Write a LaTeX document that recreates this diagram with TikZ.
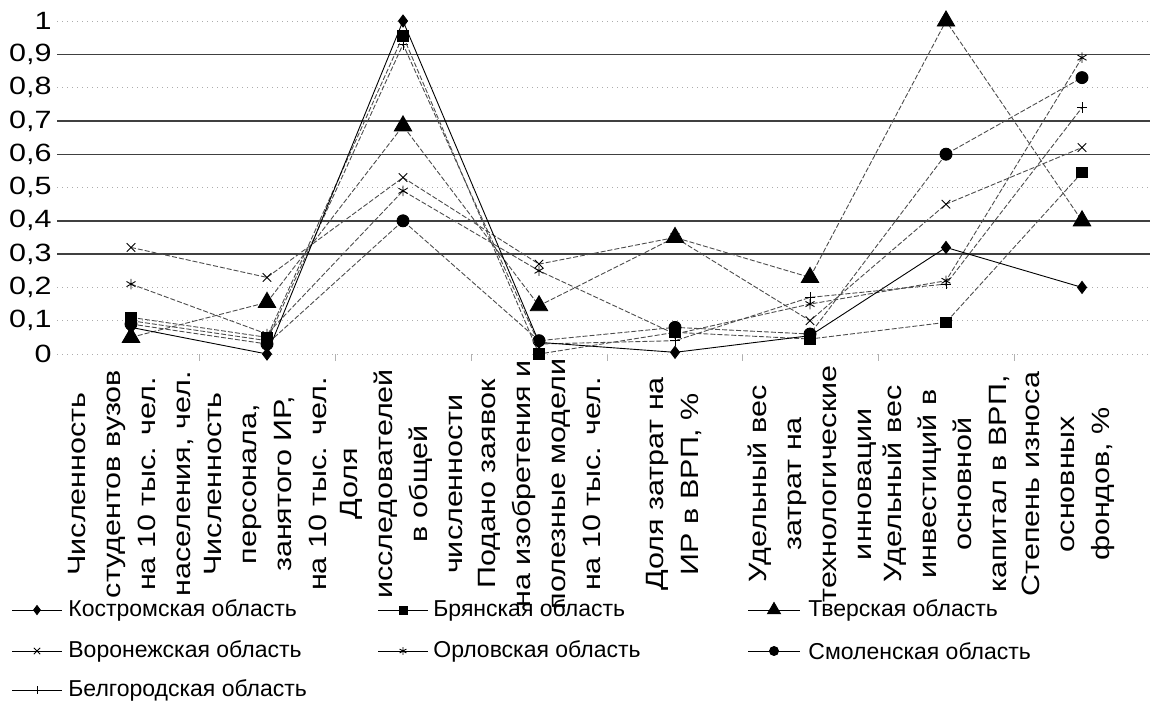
\documentclass[tikz,border=0pt]{standalone}
\usepackage{fontspec}
\setmainfont{Liberation Sans}
\newfontfamily\widefont[FakeStretch=1.22]{Liberation Sans}
\usetikzlibrary{plotmarks}

\begin{document}
\begin{tikzpicture}[x=0.5pt,y=-0.5pt,
    gridsolid/.style={black!75,line width=0.7pt},
    griddot/.style={gray!65,dotted,line width=0.5pt},
    ticklab/.style={anchor=east,inner sep=0pt,font=\widefont\fontsize{12.5}{15}\selectfont},
    catlab/.style={rotate=90,align=center,inner sep=0pt,font=\widefont\fontsize{12.5}{17.5}\selectfont},
    leglab/.style={anchor=west,inner sep=0pt,font=\fontsize{11.5}{14}\selectfont},
    series/.style={line width=0.45pt,black!70,dash pattern=on 2.5pt off 1pt,
      mark options={solid,fill=black,draw=black}},
    kostroma/.style={series,black,solid,mark=diamond*,mark size=3pt},
    bryansk/.style={series,mark=square*,mark size=2.7pt},
    tver/.style={series,mark=triangle*,mark size=5pt},
    voronezh/.style={series,mark=x,mark size=3pt},
    orel/.style={series,mark=asterisk,mark size=2.6pt},
    smolensk/.style={series,mark=*,mark size=3pt},
    belgorod/.style={series,mark=+,mark size=2.6pt},
    legline/.style={solid,black,mark indices={2},mark options={solid,fill=black,draw=black,scale=0.75}}]
  \useasboundingbox (0,0) rectangle (1150,707);
  \begin{scope}[shift={(0,354)},y=166.5pt]
    % grid
    \draw[griddot] (57,1.0) -- (1150,1.0);
    \draw[gridsolid] (57,0.9) -- (1150,0.9);
    \draw[griddot] (57,0.8) -- (1150,0.8);
    \draw[gridsolid] (57,0.7) -- (1150,0.7);
    \draw[gridsolid] (57,0.6) -- (1150,0.6);
    \draw[griddot] (57,0.5) -- (1150,0.5);
    \draw[gridsolid] (57,0.4) -- (1150,0.4);
    \draw[gridsolid] (57,0.3) -- (1150,0.3);
    \draw[griddot] (57,0.2) -- (1150,0.2);
    \draw[griddot] (57,0.1) -- (1150,0.1);
    \draw[griddot] (57,0.0) -- (1150,0.0);
    \draw[gray!60] (199,0) -- (199,-0.02);
    \draw[gray!60] (335,0) -- (335,-0.02);
    \draw[gray!60] (471,0) -- (471,-0.02);
    \draw[gray!60] (607,0) -- (607,-0.02);
    \draw[gray!60] (742,0) -- (742,-0.02);
    \draw[gray!60] (878,0) -- (878,-0.02);
    \draw[gray!60] (1014,0) -- (1014,-0.02);
    \node[ticklab] (t10) at (52,1.0) {1};
    \node[ticklab] (t9) at (52,0.9) {0,9};
    \node[ticklab] (t8) at (52,0.8) {0,8};
    \node[ticklab] (t7) at (52,0.7) {0,7};
    \node[ticklab] (t6) at (52,0.6) {0,6};
    \node[ticklab] (t5) at (52,0.5) {0,5};
    \node[ticklab] (t4) at (52,0.4) {0,4};
    \node[ticklab] (t3) at (52,0.3) {0,3};
    \node[ticklab] (t2) at (52,0.2) {0,2};
    \node[ticklab] (t1) at (52,0.1) {0,1};
    \node[ticklab] (t0) at (52,0.0) {0};
    % series
    \draw[belgorod] plot coordinates {(131,0.10) (267,0.04) (403,0.93) (539,0.03)
      (675,0.04) (810,0.17) (946,0.21) (1082,0.74)};
    \draw[orel] plot coordinates {(131,0.21) (267,0.06) (403,0.49) (539,0.25)
      (675,0.06) (810,0.15) (946,0.22) (1082,0.89)};
    \draw[voronezh] plot coordinates {(131,0.32) (267,0.23) (403,0.53) (539,0.27)
      (675,0.35) (810,0.10) (946,0.45) (1082,0.62)};
    \draw[smolensk] plot coordinates {(131,0.09) (267,0.03) (403,0.40) (539,0.04)
      (675,0.08) (810,0.06) (946,0.60) (1082,0.83)};
    \draw[bryansk] plot coordinates {(131,0.11) (267,0.05) (403,0.955) (539,0.0)
      (675,0.065) (810,0.045) (946,0.095) (1082,0.545)};
    \draw[tver] plot coordinates {(131,0.05) (267,0.155) (403,0.685) (539,0.145)
      (675,0.35) (810,0.23) (946,1.0) (1082,0.40)};
    \draw[kostroma] plot coordinates {(131,0.08) (267,0.0) (403,1.0) (539,0.035)
      (675,0.005) (810,0.055) (946,0.32) (1082,0.20)};
  \end{scope}
  % category labels
  \node[catlab] (c1) at (131,484) {Численность\\студентов вузов\\на 10 тыс. чел.\\населения, чел.};
  \node[catlab] (c2) at (266,484) {Численность\\персонала,\\занятого ИР,\\на 10 тыс. чел.};
  \node[catlab] (c3) at (402,484) {Доля\\исследователей\\в общей\\численности};
  \node[catlab] (c4) at (540,484) {Подано заявок\\на изобретения и\\полезные модели\\на 10 тыс. чел.};
  \node[catlab] (c5) at (674,484) {Доля затрат на\\ИР в ВРП, \%};
  \node[catlab] (c6) at (812,484) {Удельный вес\\затрат на\\технологические\\инновации};
  \node[catlab] (c7) at (946,484) {Удельный вес\\инвестиций в\\основной\\капитал в ВРП,};
  \node[catlab] (c8) at (1068,484) {Степень износа\\основных\\фондов, \%};
  % legend
  \draw[kostroma,legline] plot coordinates {(12,610) (37,610) (62,610)};
  \node[leglab] (lk) at (68,610) {Костромская область};
  \draw[bryansk,legline] plot coordinates {(378,610) (403,610) (428,610)};
  \node[leglab] (lb) at (433,610) {Брянская область};
  \draw[tver,legline] plot coordinates {(748,610) (774,610) (800,610)};
  \node[leglab] (lt) at (808,610) {Тверская область};
  \draw[voronezh,legline] plot coordinates {(12,651) (37,651) (62,651)};
  \node[leglab] (lv) at (68,651) {Воронежская область};
  \draw[orel,legline] plot coordinates {(378,651) (403,651) (428,651)};
  \node[leglab] (lo) at (433,651) {Орловская область};
  \draw[smolensk,legline] plot coordinates {(748,651) (774,651) (800,651)};
  \node[leglab] (ls) at (808,651) {Смоленская область};
  \draw[belgorod,legline] plot coordinates {(12,690) (37,690) (62,690)};
  \node[leglab] (lbe) at (68,690) {Белгородская область};
\end{tikzpicture}
\end{document}
